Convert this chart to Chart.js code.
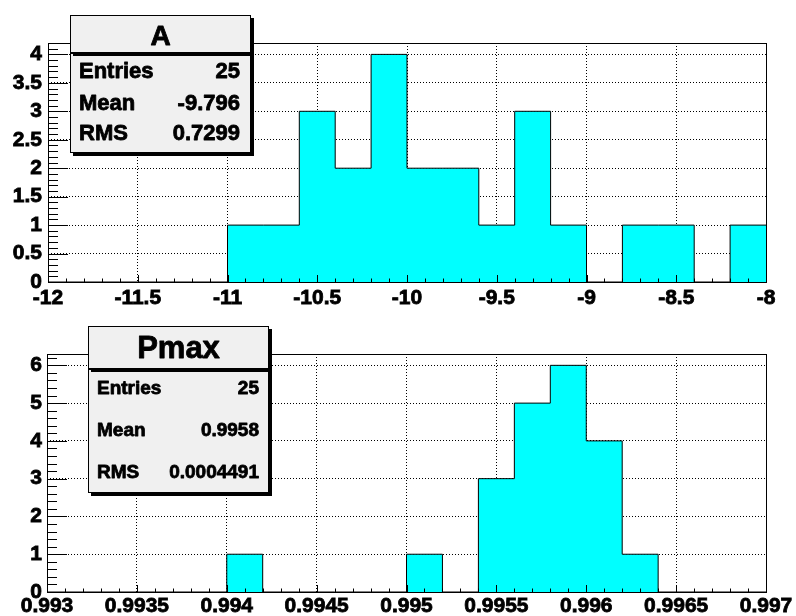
<!DOCTYPE html>
<html>
<head>
<meta charset="utf-8">
<script src="https://cdn.jsdelivr.net/npm/chart.js@4/dist/chart.umd.min.js"></script>
<style>
  html, body { margin: 0; padding: 0; background: #fff; }
  #page { position: relative; width: 796px; height: 616px; overflow: hidden; }
  .pad { position: absolute; left: 0; width: 796px; height: 308px; }
</style>
</head>
<body>
<div id="page">
  <div class="pad" style="top:0"><canvas id="padA" width="796" height="308"></canvas></div>
  <div class="pad" style="top:308px"><canvas id="padP" width="796" height="308"></canvas></div>
</div>
<script>
// Histogram "A": 20 equal bins on [-12, -8]
const aRange = [-12, -8];
const aCounts = [0, 0, 0, 0, 0, 1, 1, 3, 2, 4, 2, 2, 1, 3, 1, 0, 1, 1, 0, 1];
const aXTicks = [-12, -11.5, -11, -10.5, -10, -9.5, -9, -8.5, -8];
const aYTicks = [0, 0.5, 1, 1.5, 2, 2.5, 3, 3.5, 4];
const aYMax = 4.2;
const aTitle = 'A';
const aStats = [['Entries', '25'], ['Mean', '-9.796'], ['RMS', '0.7299']];

// Histogram "Pmax": 20 equal bins on [0.993, 0.997]
const pRange = [0.993, 0.997];
const pCounts = [0, 0, 0, 0, 0, 1, 0, 0, 0, 0, 1, 0, 3, 5, 6, 4, 1, 0, 0, 0];
const pXTicks = [0.993, 0.9935, 0.994, 0.9945, 0.995, 0.9955, 0.996, 0.9965, 0.997];
const pYTicks = [0, 1, 2, 3, 4, 5, 6];
const pYMax = 6.3;
const pTitle = 'Pmax';
const pStats = [['Entries', '25'], ['Mean', '0.9958'], ['RMS', '0.0004491']];

const FONT = '"Liberation Sans", Arial, Helvetica, sans-serif';
const FILL = '#00ffff';

// Step outline of a histogram: one point per bin low edge, plus the upper edge.
function stepPoints(range, counts) {
  const w = (range[1] - range[0]) / counts.length;
  const pts = counts.map((c, i) => ({ x: range[0] + i * w, y: c }));
  pts.push({ x: range[1], y: counts[counts.length - 1] });
  return pts;
}

// Frame, inward tick marks and the statistics box.
const framePlugin = {
  id: 'framePlugin',
  afterDatasetsDraw(chart) {
    const o = chart.options.plugins.framePlugin;
    const { ctx, chartArea: a } = chart;
    const xs = chart.scales.x, ys = chart.scales.y;
    ctx.save();
    ctx.strokeStyle = '#000';
    ctx.lineWidth = 1;
    ctx.beginPath();
    // x ticks (pointing up into the frame)
    const xMinor = (o.xTicks[1] - o.xTicks[0]) / 5;
    const nx = Math.round((xs.max - xs.min) / xMinor);
    for (let i = 0; i <= nx; i++) {
      const px = Math.round(xs.getPixelForValue(xs.min + i * xMinor)) + 0.5;
      const len = (i % 5 === 0) ? o.xMajor : o.xMajor / 2;
      ctx.moveTo(px, a.bottom);
      ctx.lineTo(px, a.bottom - len);
    }
    // y ticks (pointing right into the frame)
    const yMinor = (o.yTicks[1] - o.yTicks[0]) / 5;
    const ny = Math.floor((ys.max - ys.min) / yMinor + 1e-6);
    for (let i = 0; i <= ny; i++) {
      const py = Math.round(ys.getPixelForValue(ys.min + i * yMinor)) + 0.5;
      const len = (i % 5 === 0) ? o.yMajor : o.yMajor / 2;
      ctx.moveTo(a.left, py);
      ctx.lineTo(a.left + len, py);
    }
    ctx.stroke();
    ctx.strokeRect(Math.round(a.left) + 0.5, Math.round(a.top) + 0.5,
      Math.round(a.right - a.left), Math.round(a.bottom - a.top));
    ctx.restore();
  },
  afterDraw(chart) {
    const o = chart.options.plugins.framePlugin;
    const b = o.box;
    const ctx = chart.ctx;
    const sh = 3;
    function pane(x, y, w, h) {
      ctx.fillStyle = '#000';
      ctx.fillRect(x + sh, y + sh, w, h);
      ctx.fillStyle = '#f0f0f0';
      ctx.fillRect(x, y, w, h);
      ctx.strokeStyle = '#000';
      ctx.lineWidth = 1;
      ctx.strokeRect(x + 0.5, y + 0.5, w - 1, h - 1);
    }
    function heavyText(t, x, y) {
      ctx.strokeText(t, x, y);
      ctx.fillText(t, x, y);
    }
    ctx.save();
    pane(b.x, b.yStats, b.w, b.hStats);
    pane(b.x, b.yTitle, b.w, b.hTitle);
    ctx.fillStyle = '#000';
    ctx.strokeStyle = '#000';
    ctx.lineWidth = 0.8;
    ctx.lineJoin = 'round';
    ctx.textBaseline = 'alphabetic';
    ctx.textAlign = 'center';
    ctx.font = `bold ${b.titleSize}px ${FONT}`;
    heavyText(o.title, b.x + b.w / 2, b.titleBase);
    ctx.font = `bold ${b.rowSize}px ${FONT}`;
    o.stats.forEach((r, i) => {
      ctx.textAlign = 'left';
      heavyText(r[0], b.tx, b.rowBase[i]);
      ctx.textAlign = 'right';
      heavyText(r[1], b.vx, b.rowBase[i]);
    });
    ctx.restore();
  }
};

function makeHist(id, range, counts, xTicks, yTicks, yMax, title, stats, g) {
  const tickFont = { family: FONT, size: g.tickSize, weight: 'bold' };
  return new Chart(document.getElementById(id), {
    type: 'line',
    data: {
      datasets: [{
        data: stepPoints(range, counts),
        stepped: 'before',
        fill: 'origin',
        backgroundColor: FILL,
        borderColor: '#000',
        borderWidth: 1,
        pointRadius: 0,
        pointHoverRadius: 0
      }]
    },
    options: {
      responsive: false,
      animation: false,
      events: [],
      layout: { padding: { left: 0, right: g.right, top: g.top, bottom: 0 } },
      plugins: {
        legend: { display: false },
        tooltip: { enabled: false },
        framePlugin: {
          xTicks, yTicks, title, stats,
          xMajor: g.xMajor, yMajor: g.yMajor, box: g.box
        }
      },
      scales: {
        x: {
          type: 'linear',
          min: range[0],
          max: range[1],
          afterBuildTicks: s => { s.ticks = xTicks.map(v => ({ value: v })); },
          afterFit: s => { s.height = g.xHeight; },
          grid: { color: '#000', lineWidth: 1, drawTicks: false },
          border: { display: false, dash: [1, 2] },
          ticks: {
            color: '#000',
            font: tickFont,
            textStrokeColor: '#000',
            textStrokeWidth: 0.8,
            padding: g.xPad,
            maxRotation: 0,
            autoSkip: false,
            callback: v => String(v)
          }
        },
        y: {
          type: 'linear',
          min: 0,
          max: yMax,
          afterBuildTicks: s => { s.ticks = yTicks.map(v => ({ value: v })); },
          afterFit: s => { s.width = g.yWidth; },
          grid: { color: '#000', lineWidth: 1, drawTicks: false },
          border: { display: false, dash: [1, 2] },
          ticks: {
            color: '#000',
            font: tickFont,
            textStrokeColor: '#000',
            textStrokeWidth: 0.8,
            padding: g.yPad,
            autoSkip: false,
            callback: v => String(v)
          }
        }
      }
    },
    plugins: [framePlugin]
  });
}

makeHist('padA', aRange, aCounts, aXTicks, aYTicks, aYMax, aTitle, aStats, {
  top: 43, right: 30, xHeight: 26, yWidth: 48, xPad: 4, yPad: 6,
  tickSize: 21, xMajor: 7, yMajor: 20,
  box: { x: 70, w: 181, yTitle: 15, hTitle: 38, yStats: 53, hStats: 100,
         titleSize: 28, titleBase: 45, rowSize: 22, rowBase: [78, 110, 140],
         tx: 79, vx: 240 }
});

makeHist('padP', pRange, pCounts, pXTicks, pYTicks, pYMax, pTitle, pStats, {
  top: 46, right: 30, xHeight: 24, yWidth: 47, xPad: 2, yPad: 5,
  tickSize: 21, xMajor: 7, yMajor: 20,
  box: { x: 88, w: 181, yTitle: 18, hTitle: 43, yStats: 61, hStats: 124,
         titleSize: 31, titleBase: 50, rowSize: 19, rowBase: [86, 128, 170],
         tx: 97, vx: 259 }
});
</script>
</body>
</html>
